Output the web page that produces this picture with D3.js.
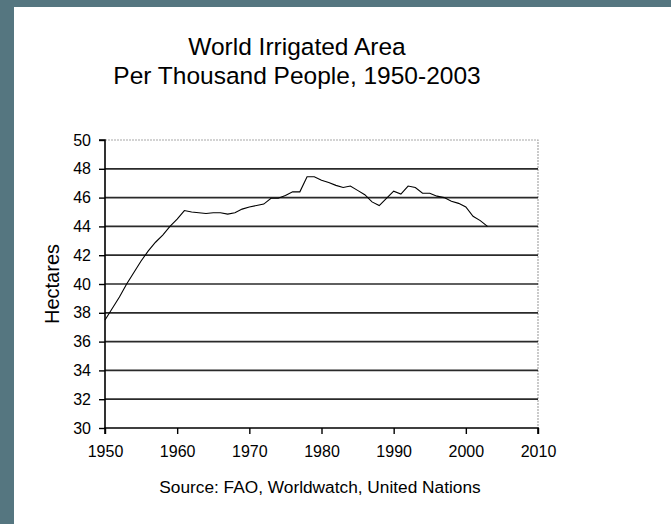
<!DOCTYPE html>
<html>
<head>
<meta charset="utf-8">
<script src="https://cdn.jsdelivr.net/npm/d3@7"></script>
<style>
  html, body { margin: 0; padding: 0; background: #557680; }
  svg { display: block; }
  text { font-family: "Liberation Sans", Arial, sans-serif; fill: #000; }
</style>
</head>
<body>
<svg id="chart" width="671" height="524"></svg>
<script>
const years = d3.range(1950, 2004);
const hectares = [
  37.5, 38.3, 39.1, 40.0, 40.8, 41.6, 42.3, 42.9, 43.4, 44.0,
  44.5, 45.1, 45.0, 44.95, 44.9, 44.95, 44.95, 44.85, 44.95, 45.2,
  45.35, 45.45, 45.55, 45.95, 45.95, 46.15, 46.4, 46.4, 47.45, 47.45,
  47.2, 47.05, 46.85, 46.7, 46.8, 46.5, 46.2, 45.7, 45.45, 45.95,
  46.45, 46.25, 46.8, 46.7, 46.3, 46.3, 46.1, 46.0, 45.75, 45.6,
  45.35, 44.7, 44.4, 44.0
];
const yTicks = [30, 32, 34, 36, 38, 40, 42, 44, 46, 48, 50];
const xTicks = [1950, 1960, 1970, 1980, 1990, 2000, 2010];
const titleLines = ["World Irrigated Area", "Per Thousand People, 1950-2003"];
const yLabel = "Hectares";
const sourceText = "Source: FAO, Worldwatch, United Nations";

const svg = d3.select("#chart");
svg.append("rect").attr("x", 14).attr("y", 7).attr("width", 671 - 14).attr("height", 524 - 7).attr("fill", "#fff");

const pLeft = 105, pRight = 538, pTop = 140, pBottom = 428;
const x = d3.scaleLinear().domain([1950, 2010]).range([pLeft, pRight]);
const y = d3.scaleLinear().domain([30, 50]).range([pBottom, pTop]);

// plot border (top, right) light grey
svg.append("path")
  .attr("d", `M${pLeft},${pTop}H${pRight}V${pBottom}`)
  .attr("fill", "none").attr("stroke", "#a8a8a8").attr("stroke-width", 1.2)
  .attr("stroke-dasharray", "2,1");

// gridlines
svg.append("g").selectAll("line")
  .data(yTicks.filter(v => v > 30 && v < 50))
  .join("line")
  .attr("x1", pLeft).attr("x2", pRight)
  .attr("y1", d => y(d)).attr("y2", d => y(d))
  .attr("stroke", "#2a2a2a").attr("stroke-width", 1.7);

// axes
const yAxis = d3.axisLeft(y).tickValues(yTicks).tickSize(6).tickPadding(8);
const gy = svg.append("g").attr("transform", `translate(${pLeft},0)`).call(yAxis);
const xAxis = d3.axisBottom(x).tickValues(xTicks).tickFormat(d3.format("d")).tickSize(6).tickPadding(12);
const gx = svg.append("g").attr("transform", `translate(0,${pBottom})`).call(xAxis);
[gx, gy].forEach(g => {
  g.select(".domain").attr("stroke", "#000").attr("stroke-width", 1.6);
  g.selectAll(".tick line").attr("stroke", "#000").attr("stroke-width", 1.4);
  g.selectAll("text").attr("font-size", 16).attr("font-family", '"Liberation Sans", Arial, sans-serif').attr("fill", "#000");
});
gy.select(".domain").attr("d", `M-6,${pTop}H0V${pBottom}`);
gx.select(".domain").attr("d", `M${pLeft},6V0H${pRight}V6`);

// line
const line = d3.line().x((d, i) => x(years[i])).y(d => y(d));
svg.append("path").datum(hectares)
  .attr("d", line).attr("fill", "none").attr("stroke", "#000").attr("stroke-width", 1.1);

// title
svg.append("g").selectAll("text").data(titleLines).join("text")
  .attr("x", 297).attr("y", (d, i) => 55 + i * 29)
  .attr("text-anchor", "middle").attr("font-size", 24.5).text(d => d);

svg.append("text")
  .attr("transform", `translate(59,${(pTop + pBottom) / 2}) rotate(-90)`)
  .attr("text-anchor", "middle").attr("font-size", 20).text(yLabel);

svg.append("text")
  .attr("x", 320).attr("y", 493)
  .attr("text-anchor", "middle").attr("font-size", 17.3).text(sourceText);
</script>
</body>
</html>
